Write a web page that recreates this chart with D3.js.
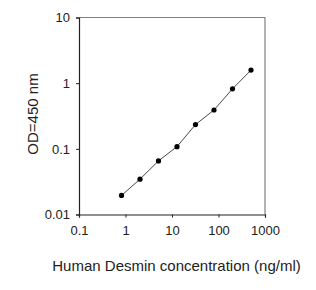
<!DOCTYPE html>
<html>
<head>
<meta charset="utf-8">
<script src="https://cdn.jsdelivr.net/npm/d3@7"></script>
<style>
    body { margin: 0; background: #fff; }
    text { font-family: "Liberation Sans", Arial, sans-serif; fill: #222; }
</style>
</head>
<body>
<div id="chart"></div>
<script>
const concentration = [0.82, 2.05, 5.12, 12.8, 32, 80, 200, 500];
const od450 = [0.0195, 0.0345, 0.0655, 0.108, 0.234, 0.39, 0.82, 1.58];
const xTicks = [0.1, 1, 10, 100, 1000];
const yTicks = [0.01, 0.1, 1, 10];

const width = 316, height = 290;
const plotLeft = 79, plotRight = 265, plotTop = 17.5, plotBottom = 214.5;

const svg = d3.select("#chart").append("svg")
    .attr("width", width)
    .attr("height", height);

const x = d3.scaleLog().domain([0.1, 1000]).range([plotLeft, plotRight]);
const y = d3.scaleLog().domain([0.01, 10]).range([plotBottom, plotTop]);

// top and right frame in grey
svg.append("path")
    .attr("d", `M${plotLeft},${plotTop}H${plotRight}V${plotBottom}`)
    .attr("fill", "none")
    .attr("stroke", "#808080")
    .attr("stroke-width", 1.2);

const xAxis = svg.append("g")
    .attr("transform", `translate(0,${plotBottom})`)
    .call(d3.axisBottom(x).tickValues(xTicks).tickFormat(d3.format("~g")).tickSize(3).tickPadding(8));

const yAxis = svg.append("g")
    .attr("transform", `translate(${plotLeft},0)`)
    .call(d3.axisLeft(y).tickValues(yTicks).tickFormat(d3.format("~g")).tickSize(3).tickPadding(6));

[xAxis, yAxis].forEach(g => {
    g.select(".domain").attr("stroke", "#222").attr("stroke-width", 1.2);
    g.selectAll(".tick line").attr("stroke", "#222");
    g.selectAll("text").attr("font-size", 13).attr("fill", "#222")
        .style("font-family", "'Liberation Sans', Arial, sans-serif");
});

const line = d3.line()
    .x((d, i) => x(concentration[i]))
    .y(d => y(d));

svg.append("path")
    .datum(od450)
    .attr("d", line)
    .attr("fill", "none")
    .attr("stroke", "#333")
    .attr("stroke-width", 0.9);

svg.selectAll("circle")
    .data(od450)
    .enter().append("circle")
    .attr("cx", (d, i) => x(concentration[i]))
    .attr("cy", d => y(d))
    .attr("r", 2.6)
    .attr("fill", "#000");

svg.append("text")
    .attr("x", (plotLeft + plotRight) / 2 + 4.5)
    .attr("y", 271)
    .attr("text-anchor", "middle")
    .attr("font-size", 15)
    .text("Human Desmin concentration (ng/ml)");

svg.append("text")
    .attr("transform", `translate(37.5,114) rotate(-90)`)
    .attr("text-anchor", "middle")
    .attr("font-size", 15)
    .text("OD=450 nm");
</script>
</body>
</html>
